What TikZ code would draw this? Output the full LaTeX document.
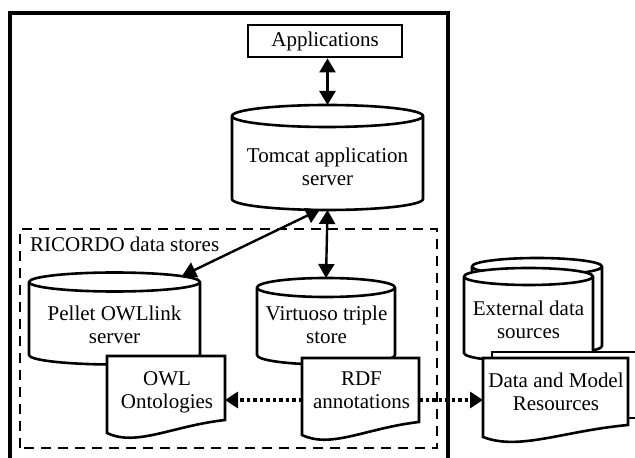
\documentclass[tikz,border=0pt]{standalone}
\usepackage{fontspec}
\setmainfont{Liberation Serif}
\usetikzlibrary{arrows.meta}
\tikzset{
  lbl/.style={font=\fontsize{21pt}{23pt}\selectfont, align=center, inner sep=0pt},
  outerline/.style={line width=3.2pt},
  boxline/.style={line width=2.8pt},
  cylline/.style={line width=2.6pt, line join=round},
  docline/.style={line width=2.6pt, line join=miter},
  dashline/.style={line width=2.7pt, dash pattern=on 10pt off 7pt},
  solidarr/.style={line width=2.4pt, {Triangle[length=14pt,width=16pt]}-{Triangle[length=14pt,width=16pt]}},
  dotarr/.style={line width=3.8pt, dash pattern=on 3.5pt off 3pt, -{Triangle[length=13pt,width=16pt]}},
}
% #1 name, #2 cx, #3 top-centre Y, #4 bottom-centre Y, #5 rx, #6 ry
\newcommand\mycyl[6]{%
  \filldraw[cylline, fill=white] ({#2-#5},{#3}) -- ({#2-#5},{#4})
    arc[start angle=180, end angle=360, x radius=#5, y radius=#6]
    -- ({#2+#5},{#3})
    arc[start angle=0, end angle=180, x radius=#5, y radius=#6] -- cycle;
  \draw[cylline] ({#2-#5},{#3}) arc[start angle=180, end angle=360, x radius=#5, y radius=#6];
  \coordinate (#1-top) at ({#2},{#3+#6});
  \coordinate (#1-bot) at ({#2},{#4-#6});
}
% #1 xl, #2 xr, #3 top Y, #4 left-bottom Y, #5 right-bottom Y, #6 name, #7 connector Y
\newcommand\mydoc[7]{%
  \filldraw[docline, fill=white] ({#1},{#3}) -- ({#1},{#4})
    .. controls ({#1+0.25*(#2-#1)},{#4-14}) and ({#1+0.55*(#2-#1)},{#5-6}) .. ({#2},{#5})
    -- ({#2},{#3}) -- cycle;
  \coordinate (#6-w) at ({#1},{#7});
  \coordinate (#6-e) at ({#2},{#7});
}
\begin{document}
\begin{tikzpicture}[x=1pt, y=1pt]
\useasboundingbox (0,0) rectangle (635,458);
\begin{scope}
\clip (0,0) rectangle (635,458);
\fill[white] (0,0) rectangle (635,458);
% outer frame (open at the bottom)
\draw[outerline] (10,-10) -- (10,445) -- (448,445) -- (448,-10);
% dashed group
\draw[dashline] (20,10) rectangle (437,229);
\node[lbl, anchor=base west] (ricordo) at (30,206.3) {RICORDO data stores};
% applications
\node[lbl, draw, boxline, minimum width=154pt, minimum height=32pt] (app) at (325,417) {Applications};
% cylinders
\mycyl{tomcatc}{327.5}{342}{259}{95.5}{11}
\node[lbl] (tomcat) at (327.5,291.6) {Tomcat application\\server};
\mycyl{pelletc}{114.5}{176}{103}{85.5}{9.5}
\node[lbl] (pellet) at (114.5,133.6) {Pellet OWLlink\\server};
\mycyl{virtc}{326}{170.5}{103}{69}{9.5}
\node[lbl] (virt) at (326.5,133) {Virtuoso triple\\store};
% external data sources (stacked)
\mycyl{extback}{537}{191.5}{112}{65}{8.5}
\mycyl{extc}{528.5}{181.5}{105}{64.5}{8.5}
\node[lbl] (ext) at (528.5,138.5) {External data\\sources};
% documents
\mydoc{107}{225}{102}{25}{38}{owldoc}{58}
\node[lbl] (owl) at (167,65.3) {OWL\\Ontologies};
\mydoc{302}{419}{100}{23}{36}{rdfdoc}{58}
\node[lbl] (rdf) at (361.5,67.7) {RDF\\annotations};
\filldraw[docline, fill=white] (492,40) rectangle (680,106);
\mydoc{483}{628}{100}{21}{33}{datadoc}{58}
\node[lbl] (data) at (556,66) {Data and Model\\Resources};
% connectors
\coordinate (pelletin) at (182,182);
\coordinate (tomcatout) at (320,248.5);
\draw[solidarr] (tomcatc-top |- app.south) -- (tomcatc-top);
\draw[solidarr] (tomcatc-bot) -- (virtc-top);
\draw[solidarr] (tomcatout) -- (pelletin);
\draw[dotarr] (rdfdoc-w) -- (owldoc-e);
\draw[dotarr] (rdfdoc-e) -- (datadoc-w);
\end{scope}
\end{tikzpicture}
\end{document}
